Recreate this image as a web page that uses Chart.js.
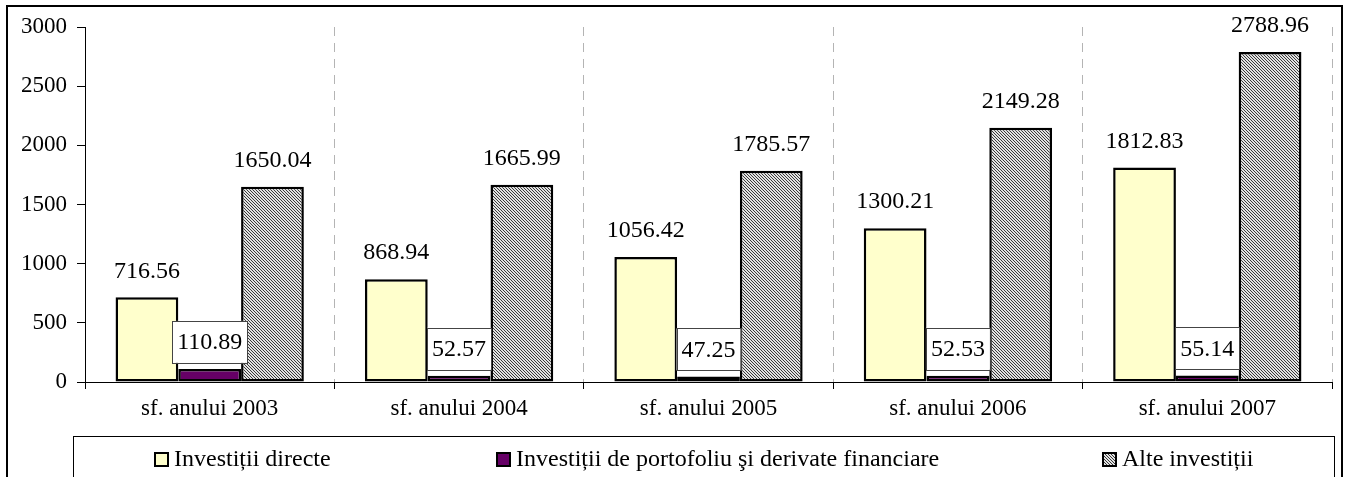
<!DOCTYPE html>
<html>
<head>
<meta charset="utf-8">
<script src="https://cdn.jsdelivr.net/npm/chart.js@4/dist/chart.umd.min.js"></script>
<style>
  html, body { margin: 0; padding: 0; background: #fff; }
  #wrap { width: 1346px; height: 477px; position: relative; }
</style>
</head>
<body>
<div id="wrap"><canvas id="chart" width="1346" height="477"></canvas></div>
<script>
const categories = ['sf. anului 2003', 'sf. anului 2004', 'sf. anului 2005', 'sf. anului 2006', 'sf. anului 2007'];
const seriesNames = ['Investiții directe', 'Investiții de portofoliu şi derivate financiare', 'Alte investiții'];
const directe = [716.56, 868.94, 1056.42, 1300.21, 1812.83];
const portofoliu = [110.89, 52.57, 47.25, 52.53, 55.14];
const alte = [1650.04, 1665.99, 1785.57, 2149.28, 2788.96];
const yTicks = [0, 500, 1000, 1500, 2000, 2500, 3000];

const FONT = '"Liberation Serif", "Times New Roman", serif';

// fine diagonal hatch for the third series
function hatch() {
  const c = document.createElement('canvas');
  c.width = 3; c.height = 3;
  const g = c.getContext('2d');
  g.fillStyle = '#e2e2e2';
  g.fillRect(0, 0, 3, 3);
  g.fillStyle = '#3a3a3a';
  for (let i = 0; i < 3; i++) g.fillRect(i, i, 1, 1);
  return g.createPattern(c, 'repeat');
}
const hatchFill = hatch();

const legendX = [155, 497, 1103];

const decor = {
  id: 'decor',
  afterDatasetsDraw(chart) {
    const ctx = chart.ctx;
    ctx.save();
    ctx.font = '24px ' + FONT;
    ctx.textAlign = 'center';
    ctx.textBaseline = 'middle';
    chart.data.datasets.forEach((ds, di) => {
      const meta = chart.getDatasetMeta(di);
      meta.data.forEach((bar, i) => {
        const txt = ds.data[i].toFixed(2);
        const cy = bar.y - 27;
        if (di === 1) {
          const w = ctx.measureText(txt).width + 10;
          ctx.fillStyle = '#fff';
          ctx.fillRect(bar.x - w / 2, cy - 21, w, 42);
          ctx.strokeStyle = '#444';
          ctx.lineWidth = 1;
          ctx.strokeRect(Math.round(bar.x - w / 2) + 0.5, Math.round(cy - 21) + 0.5, Math.round(w), 42);
        }
        ctx.fillStyle = '#000';
        ctx.fillText(txt, bar.x, cy + 1);
      });
    });
    ctx.restore();
  },
  afterDraw(chart) {
    const ctx = chart.ctx;
    ctx.save();
    // outer frame
    ctx.strokeStyle = '#000';
    ctx.lineWidth = 2;
    ctx.strokeRect(7, 6, 1335, 490);
    // legend frame
    ctx.lineWidth = 1;
    ctx.strokeRect(73.5, 436.5, 1261, 60);
    ctx.font = '24px ' + FONT;
    ctx.textBaseline = 'middle';
    chart.data.datasets.forEach((ds, i) => {
      const x = legendX[i];
      ctx.fillStyle = ds.backgroundColor;
      ctx.fillRect(x, 453, 13, 13);
      ctx.strokeStyle = '#000';
      ctx.lineWidth = 2;
      ctx.strokeRect(x, 453, 13, 13);
      ctx.fillStyle = '#000';
      ctx.fillText(ds.label, x + 19, 460);
    });
    ctx.restore();
  }
};

new Chart(document.getElementById('chart'), {
  type: 'bar',
  data: {
    labels: categories,
    datasets: [
      { label: seriesNames[0], data: directe, backgroundColor: '#ffffcc' },
      { label: seriesNames[1], data: portofoliu, backgroundColor: '#660066' },
      { label: seriesNames[2], data: alte, backgroundColor: hatchFill }
    ]
  },
  options: {
    responsive: false,
    animation: false,
    events: [],
    barPercentage: 1,
    categoryPercentage: 0.755,
    elements: { bar: { borderColor: '#000', borderWidth: 2.5, borderSkipped: false } },
    layout: { padding: { left: 0, right: 14, top: 27, bottom: 41 } },
    plugins: { legend: { display: false }, tooltip: { enabled: false } },
    scales: {
      x: {
        afterFit: s => { s.height = 54; },
        grid: {
          offset: true,
          color: c => c.index === 0 ? 'rgba(0,0,0,0)' : '#b4b4b4',
          tickColor: '#000',
          tickLength: 7,
          lineWidth: 1
        },
        border: { display: true, color: '#000', width: 1, dash: [9, 7] },
        ticks: { color: '#000', font: { family: FONT, size: 23 }, padding: 6 }
      },
      y: {
        min: 0,
        max: 3000,
        afterFit: s => { s.width = 85; },
        afterBuildTicks: s => { s.ticks = yTicks.map(v => ({ value: v })); },
        grid: { drawOnChartArea: false, tickColor: '#000', tickLength: 8 },
        border: { display: true, color: '#000', width: 1 },
        ticks: { color: '#000', font: { family: FONT, size: 23 }, padding: 10, callback: v => String(v) }
      }
    }
  },
  plugins: [decor]
});
</script>
</body>
</html>
